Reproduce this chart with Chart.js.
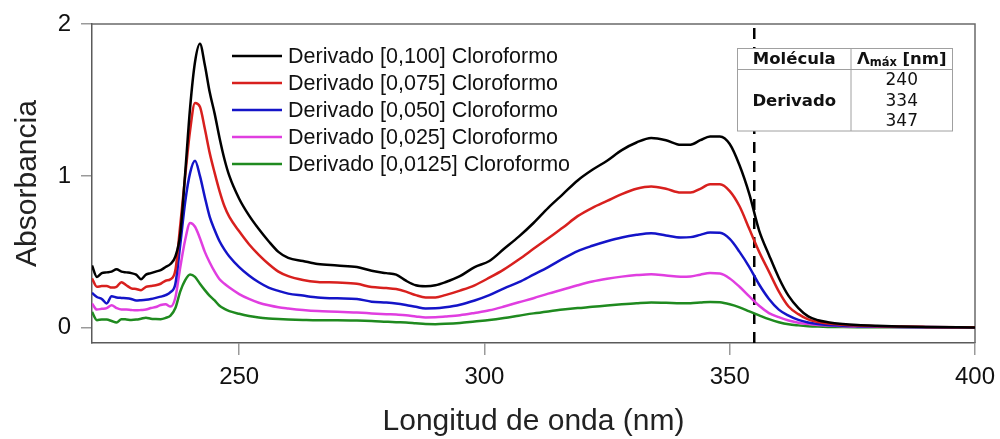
<!DOCTYPE html>
<html lang="es">
<head>
<meta charset="utf-8">
<title>Absorbancia del derivado en cloroformo</title>
<script src="https://cdn.jsdelivr.net/npm/chart.js@4.4.1/dist/chart.umd.min.js"></script>
<style>
  html, body { margin: 0; padding: 0; background: #fff; }
  #grafico { display: block; }
</style>
</head>
<body>
<canvas id="grafico" width="1000" height="439"></canvas>
<script>
// Longitudes de onda (nm) compartidas por todos los espectros
const longitudOnda = [
  220, 221, 222, 223, 224, 225, 226, 227, 228, 229, 230, 231, 232, 233, 234,
  235, 236, 237, 238, 239, 240, 241, 242, 243, 244, 245, 246, 247, 248,
  250, 252, 254, 256, 258, 260,
  263, 266, 270, 274, 277, 280,
  282, 284, 286, 288, 290, 292,
  295, 298, 301, 304, 307, 310, 313, 316, 319, 322, 325, 328, 331, 334, 337, 340,
  342, 344, 346, 348, 350, 352, 354, 356, 358, 360, 362, 364, 366, 368, 370,
  373, 376, 380, 385, 390, 400
];

// Absorbancia de cada concentración
const derivado0100 = [
  0.41, 0.335, 0.36, 0.365, 0.37, 0.385, 0.37, 0.365, 0.36, 0.35, 0.32, 0.35, 0.36, 0.37, 0.38,
  0.40, 0.42, 0.47, 0.62, 1.02, 1.45, 1.75, 1.87, 1.73, 1.55, 1.41, 1.25, 1.11, 1.00,
  0.85, 0.74, 0.65, 0.57, 0.50, 0.46,
  0.44, 0.42, 0.41, 0.40, 0.375, 0.36,
  0.35, 0.31, 0.28, 0.274, 0.28, 0.30,
  0.34, 0.40, 0.44, 0.52, 0.60, 0.69, 0.79, 0.88, 0.97, 1.04, 1.10, 1.17, 1.22, 1.25, 1.235, 1.205,
  1.205, 1.235, 1.26, 1.26, 1.21, 1.07, 0.88, 0.64, 0.48, 0.33, 0.21, 0.13, 0.075, 0.05, 0.037,
  0.025, 0.018, 0.013, 0.009, 0.006, 0.002
];
const derivado0075 = [
  0.325, 0.27, 0.275, 0.275, 0.265, 0.27, 0.30, 0.28, 0.26, 0.255, 0.248, 0.27, 0.275, 0.28, 0.29,
  0.31, 0.32, 0.38, 0.68, 1.00, 1.30, 1.48, 1.455, 1.31, 1.15, 1.02, 0.90, 0.80, 0.73,
  0.635, 0.55, 0.48, 0.42, 0.37, 0.34,
  0.315, 0.302, 0.298, 0.29, 0.268, 0.262,
  0.255, 0.238, 0.215, 0.20, 0.20, 0.215,
  0.245, 0.28, 0.33, 0.385, 0.45, 0.52, 0.59, 0.66, 0.735, 0.79, 0.835, 0.88, 0.915, 0.93, 0.915, 0.89,
  0.89, 0.915, 0.945, 0.945, 0.90, 0.80, 0.65, 0.50, 0.37, 0.24, 0.14, 0.09, 0.055, 0.038, 0.028,
  0.02, 0.015, 0.011, 0.008, 0.006, 0.003
];
const derivado0050 = [
  0.23, 0.203, 0.19, 0.16, 0.208, 0.20, 0.197, 0.195, 0.19, 0.18, 0.182, 0.185, 0.19, 0.197, 0.205,
  0.215, 0.235, 0.29, 0.55, 0.83, 1.02, 1.10, 1.00, 0.86, 0.73, 0.644, 0.57, 0.515, 0.47,
  0.40, 0.345, 0.30, 0.265, 0.243, 0.225,
  0.212, 0.20, 0.194, 0.19, 0.172, 0.166,
  0.16, 0.15, 0.138, 0.127, 0.128, 0.135,
  0.152, 0.18, 0.215, 0.26, 0.30, 0.35, 0.40, 0.455, 0.505, 0.54, 0.57, 0.595, 0.612, 0.622, 0.608, 0.595,
  0.597, 0.612, 0.627, 0.625, 0.585, 0.50, 0.40, 0.285, 0.19, 0.12, 0.08, 0.052, 0.035, 0.025, 0.019,
  0.014, 0.011, 0.008, 0.006, 0.005, 0.003
];
const derivado0025 = [
  0.16, 0.12, 0.125, 0.13, 0.149, 0.13, 0.12, 0.12, 0.117, 0.115, 0.117, 0.12, 0.13, 0.137, 0.15,
  0.155, 0.14, 0.20, 0.40, 0.58, 0.69, 0.665, 0.59, 0.50, 0.43, 0.37, 0.32, 0.29, 0.265,
  0.222, 0.19, 0.165, 0.148, 0.135, 0.127,
  0.117, 0.11, 0.106, 0.10, 0.095, 0.09,
  0.087, 0.083, 0.075, 0.068, 0.069, 0.074,
  0.083, 0.098, 0.115, 0.14, 0.168, 0.195, 0.225, 0.252, 0.28, 0.305, 0.323, 0.337, 0.347, 0.353, 0.345, 0.336,
  0.338, 0.35, 0.36, 0.357, 0.325, 0.27, 0.207, 0.145, 0.097, 0.07, 0.048, 0.034, 0.025, 0.019, 0.015,
  0.011, 0.009, 0.007, 0.005, 0.004, 0.003
];
const derivado00125 = [
  0.104, 0.05, 0.055, 0.054, 0.045, 0.035, 0.057, 0.055, 0.052, 0.054, 0.06, 0.067, 0.06, 0.058, 0.057,
  0.065, 0.08, 0.13, 0.24, 0.314, 0.351, 0.335, 0.29, 0.248, 0.21, 0.18, 0.145, 0.125, 0.11,
  0.092, 0.078, 0.068, 0.062, 0.058, 0.055,
  0.052, 0.05, 0.05, 0.048, 0.045, 0.04,
  0.037, 0.035, 0.03, 0.025, 0.024, 0.026,
  0.032, 0.042, 0.052, 0.065, 0.08, 0.095, 0.108, 0.12, 0.13, 0.138, 0.147, 0.155, 0.162, 0.167, 0.165, 0.161,
  0.162, 0.166, 0.17, 0.168, 0.155, 0.135, 0.108, 0.082, 0.057, 0.037, 0.023, 0.016, 0.011, 0.008, 0.006,
  0.005, 0.004, 0.003, 0.003, 0.002, 0.002
];

const etiquetas = [
  'Derivado [0,100] Cloroformo',
  'Derivado [0,075] Cloroformo',
  'Derivado [0,050] Cloroformo',
  'Derivado [0,025] Cloroformo',
  'Derivado [0,0125] Cloroformo'
];
const espectros = [derivado0100, derivado0075, derivado0050, derivado0025, derivado00125];

// Marcas de los ejes
const ticksX = [250, 300, 350, 400];
const ticksY = [0, 1, 2];

// Línea de corte vertical (nm) y tabla de máximos
const corteNm = 355;
const moleculas = ['Derivado'];
const lambdaMax = [240, 334, 347];

const colores = ['#000000', '#d8201e', '#1414c8', '#e03ee0', '#1f8a1f'];
const fuenteEjes = '"Liberation Sans", Arial, sans-serif';
const fuenteTabla = '"DejaVu Sans", Verdana, sans-serif';

const datasets = espectros.map((serie, i) => ({
  label: etiquetas[i],
  data: longitudOnda.map((x, j) => ({ x, y: serie[j] })),
  borderColor: colores[i],
  borderWidth: 2.5,
  pointRadius: 0,
  cubicInterpolationMode: 'monotone',
  fill: false
}));

// Línea discontinua vertical
datasets.push({
  label: 'corte',
  data: [{ x: corteNm, y: -0.1 }, { x: corteNm, y: 2 }],
  borderColor: '#000',
  borderWidth: 2.5,
  borderDash: [11, 8],
  pointRadius: 0,
  fill: false
});

// Marco superior y derecho del área de trazado
const marcoPlugin = {
  id: 'marco',
  beforeDatasetsDraw(chart) {
    const { ctx, chartArea: a } = chart;
    ctx.save();
    ctx.strokeStyle = '#6a6a6a';
    ctx.lineWidth = 1.5;
    ctx.beginPath();
    ctx.moveTo(a.left, a.top);
    ctx.lineTo(a.right, a.top);
    ctx.lineTo(a.right, a.bottom);
    ctx.stroke();
    ctx.restore();
  }
};

// Leyenda dibujada a mano dentro del área del gráfico
const leyendaPlugin = {
  id: 'leyenda',
  afterDatasetsDraw(chart) {
    const ctx = chart.ctx;
    ctx.save();
    ctx.font = '21.5px ' + fuenteEjes;
    ctx.textBaseline = 'middle';
    etiquetas.forEach((texto, i) => {
      const y = 56 + i * 27;
      ctx.strokeStyle = colores[i];
      ctx.lineWidth = 2.5;
      ctx.beginPath();
      ctx.moveTo(232, y);
      ctx.lineTo(282, y);
      ctx.stroke();
      ctx.fillStyle = '#111';
      ctx.fillText(texto, 288, y + 1);
    });
    ctx.restore();
  }
};

// Tabla de longitudes de onda máximas
const tablaPlugin = {
  id: 'tabla',
  afterDraw(chart) {
    const ctx = chart.ctx;
    const x0 = 737.5, x1 = 851, x2 = 952.5;
    const y0 = 48.5, y1 = 69.5, y2 = 131;
    ctx.save();
    ctx.fillStyle = '#fff';
    ctx.fillRect(x0, y0, x2 - x0, y2 - y0);
    ctx.strokeStyle = '#a0a0a0';
    ctx.lineWidth = 1;
    ctx.strokeRect(x0, y0, x2 - x0, y2 - y0);
    ctx.beginPath();
    ctx.moveTo(x0, y1); ctx.lineTo(x2, y1);
    ctx.moveTo(x1, y0); ctx.lineTo(x1, y2);
    ctx.stroke();

    ctx.fillStyle = '#111';
    ctx.textBaseline = 'middle';
    ctx.textAlign = 'center';
    const c1 = (x0 + x1) / 2, c2 = (x1 + x2) / 2;

    // Encabezados
    ctx.font = 'bold 16.5px ' + fuenteTabla;
    ctx.fillText('Molécula', c1, 59.5);

    const partes = [
      { t: 'Λ', f: 'bold 16.5px ' + fuenteTabla, dy: 0 },
      { t: 'máx', f: 'bold 11.5px ' + fuenteTabla, dy: 4 },
      { t: ' [nm]', f: 'bold 16.5px ' + fuenteTabla, dy: 0 }
    ];
    let ancho = 0;
    partes.forEach(p => { ctx.font = p.f; p.w = ctx.measureText(p.t).width; ancho += p.w; });
    let x = c2 - ancho / 2;
    ctx.textAlign = 'left';
    partes.forEach(p => {
      ctx.font = p.f;
      ctx.fillText(p.t, x, 59.5 + p.dy);
      x += p.w;
    });

    // Cuerpo
    ctx.textAlign = 'center';
    ctx.font = 'bold 16.5px ' + fuenteTabla;
    ctx.fillText(moleculas[0], c1, 102);
    ctx.font = '17px ' + fuenteTabla;
    lambdaMax.forEach((v, i) => ctx.fillText(String(v), c2, 81 + i * 20.5));
    ctx.restore();
  }
};

new Chart(document.getElementById('grafico').getContext('2d'), {
  type: 'line',
  data: { datasets },
  options: {
    responsive: false,
    animation: false,
    devicePixelRatio: 1,
    layout: { padding: { top: 24, right: 25, left: 0, bottom: 0 } },
    plugins: {
      legend: { display: false },
      tooltip: { enabled: false }
    },
    scales: {
      x: {
        type: 'linear',
        min: 220,
        max: 400,
        afterBuildTicks: s => { s.ticks = ticksX.map(v => ({ value: v })); },
        afterFit: s => { s.height = 96; s.paddingLeft = 0; s.paddingRight = 0; },
        grid: { drawOnChartArea: false, drawTicks: true, tickLength: 12, color: '#9a9a9a', lineWidth: 1.5 },
        border: { color: '#5a5a5a', width: 1.5 },
        ticks: { color: '#111', padding: 8, maxRotation: 0, font: { family: fuenteEjes, size: 24 } },
        title: {
          display: true,
          text: 'Longitud de onda (nm)',
          color: '#222',
          font: { family: fuenteEjes, size: 30, lineHeight: 1.1 },
          padding: { top: 0, bottom: 1 }
        }
      },
      y: {
        type: 'linear',
        min: -0.1,
        max: 2,
        afterBuildTicks: s => { s.ticks = ticksY.map(v => ({ value: v })); },
        afterFit: s => { s.width = 92; s.paddingTop = 0; s.paddingBottom = 0; },
        grid: { drawOnChartArea: false, drawTicks: true, tickLength: 11, color: '#9a9a9a', lineWidth: 1.5 },
        border: { color: '#5a5a5a', width: 1.5 },
        ticks: { color: '#111', padding: 10, font: { family: fuenteEjes, size: 24 } },
        title: {
          display: true,
          text: 'Absorbancia',
          color: '#222',
          font: { family: fuenteEjes, size: 30, lineHeight: 1.2 },
          padding: { top: 10, bottom: 0 }
        }
      }
    }
  },
  plugins: [marcoPlugin, leyendaPlugin, tablaPlugin]
});
</script>
</body>
</html>
